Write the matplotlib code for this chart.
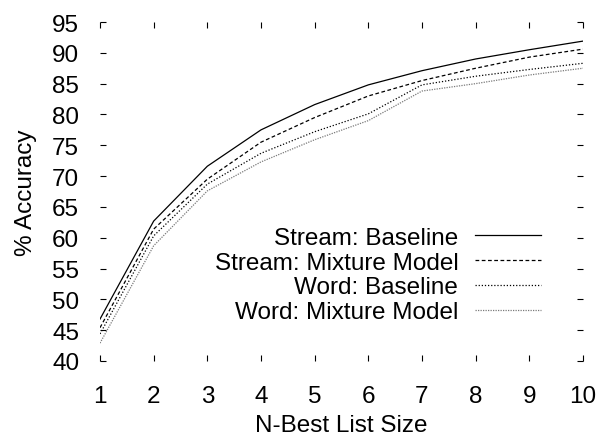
import matplotlib
matplotlib.use("Agg")
import matplotlib.pyplot as plt

# N-best accuracy for stream- and word-level models
nbest = [1, 2, 3, 4, 5, 6, 7, 8, 9, 10]
stream_baseline = [46.8, 62.7, 71.6, 77.5, 81.6, 84.8, 87.1, 89.0, 90.5, 91.9]
stream_mixture = [45.4, 61.4, 69.5, 75.5, 79.5, 83.0, 85.5, 87.5, 89.3, 90.6]
word_baseline = [44.4, 60.3, 68.7, 73.7, 77.2, 80.1, 84.8, 86.2, 87.3, 88.3]
word_mixture = [42.9, 58.7, 67.6, 72.3, 75.9, 79.0, 83.8, 85.0, 86.4, 87.5]
yticks = [40, 45, 50, 55, 60, 65, 70, 75, 80, 85, 90, 95]

plt.rcParams["font.family"] = ["Liberation Sans", "DejaVu Sans"]
FS = 17.5

fig = plt.figure(figsize=(5.99, 4.39), dpi=100)
ax = fig.add_axes([100 / 599, 1 - 362 / 439, 483 / 599, 339 / 439])

series = [
    ("Stream: Baseline", stream_baseline, "black", "-"),
    ("Stream: Mixture Model", stream_mixture, "black", (0, (3, 2))),
    ("Word: Baseline", word_baseline, "black", (0, (1, 1.5))),
    ("Word: Mixture Model", word_mixture, "#7a7a7a", (0, (1, 1))),
]
for lab, ys, c, ls in series:
    ax.plot(nbest, ys, color=c, ls=ls, lw=0.9, label=lab)

ax.set_xlim(1, 10)
ax.set_ylim(40, 95)
ax.set_xticks(nbest)
ax.set_yticks(yticks)
for s in ax.spines.values():
    s.set_visible(False)
ax.tick_params(axis="both", direction="in", length=4, width=0.8,
               top=True, right=True, labelsize=FS)
ax.tick_params(axis="x", pad=17.5)
ax.tick_params(axis="y", pad=15)

ax.set_xlabel("N-Best List Size", fontsize=FS, labelpad=5)
ax.set_ylabel("% Accuracy", fontsize=FS, labelpad=11)

ax.legend(loc="center right", bbox_to_anchor=(541 / 599, 163 / 439),
          bbox_transform=fig.transFigure, frameon=False, fontsize=FS,
          markerfirst=False, alignment="right", borderpad=0, borderaxespad=0,
          handlelength=2.7, handletextpad=0.7, labelspacing=0.11)

fig.savefig("out.png", dpi=100)
